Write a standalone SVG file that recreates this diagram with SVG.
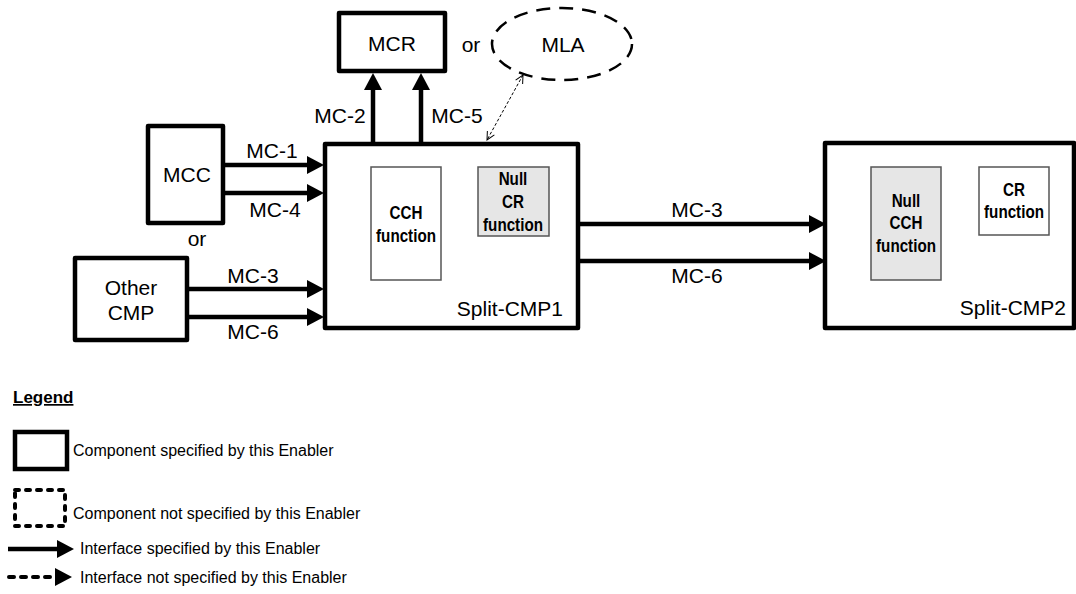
<svg xmlns="http://www.w3.org/2000/svg" width="1076" height="594" viewBox="0 0 1076 594">
<style>
.box{fill:#fff;stroke:#000;stroke-width:4.5;stroke-linejoin:round}
.fn{fill:#fff;stroke:#555;stroke-width:1.5}
.fng{fill:#e6e6e6;stroke:#555;stroke-width:1.5}
.lbl{font-family:"Liberation Sans",Arial,sans-serif;font-size:21px;fill:#000}
.fnt{font-family:"Liberation Sans",Arial,sans-serif;font-size:19px;font-weight:bold;fill:#000;text-anchor:middle}
.leg{font-family:"Liberation Sans",Arial,sans-serif;font-size:16px;fill:#000}
.arr{stroke:#000;stroke-width:4.5;fill:none;marker-end:url(#ah)}
</style>
<defs>
<marker id="ah" viewBox="0 0 17 18" markerWidth="17" markerHeight="18" markerUnits="userSpaceOnUse" refX="1" refY="9" orient="auto">
<path d="M0,0 L17,9 L0,18 z" fill="#000"/>
</marker>
<marker id="oh" viewBox="0 0 10 10" markerWidth="10" markerHeight="10" markerUnits="userSpaceOnUse" refX="9" refY="5" orient="auto-start-reverse">
<path d="M1,1 L9,5 L1,9" fill="none" stroke="#000" stroke-width="1"/>
</marker>
</defs>
<rect width="1076" height="594" fill="#fff"/>

<g id="MCR">
<rect class="box" x="339" y="13" width="106" height="58"/>
<text class="lbl" x="392" y="51" text-anchor="middle">MCR</text>
</g>
<text class="lbl" x="471" y="52" text-anchor="middle">or</text>
<g id="MLA">
<ellipse cx="562" cy="44" rx="70" ry="36" fill="#fff" stroke="#000" stroke-width="2.5" stroke-dasharray="14,9"/>
<text class="lbl" x="563" y="52" text-anchor="middle">MLA</text>
</g>

<g id="MCC">
<rect class="box" x="148" y="126" width="75" height="97"/>
<text class="lbl" x="187" y="182" text-anchor="middle">MCC</text>
</g>
<text class="lbl" x="197" y="246" text-anchor="middle">or</text>
<g id="OtherCMP">
<rect class="box" x="75" y="258" width="112" height="82"/>
<text class="lbl" x="131" y="295" text-anchor="middle">Other</text>
<text class="lbl" x="131" y="320" text-anchor="middle">CMP</text>
</g>

<g id="SplitCMP1">
<rect class="box" x="325" y="144" width="253" height="184"/>
<rect class="fn" x="371" y="167" width="70" height="113"/>
<g transform="translate(406,0) scale(0.8,1)">
<text class="fnt" x="0" y="219">CCH</text>
<text class="fnt" x="0" y="242">function</text>
</g>
<rect class="fng" x="478" y="167" width="71" height="69"/>
<g transform="translate(513,0) scale(0.8,1)">
<text class="fnt" x="0" y="185">Null</text>
<text class="fnt" x="0" y="208">CR</text>
<text class="fnt" x="0" y="231">function</text>
</g>
<text class="lbl" x="563" y="316" text-anchor="end">Split-CMP1</text>
</g>

<g id="SplitCMP2">
<rect class="box" x="825" y="143" width="249" height="185"/>
<rect class="fng" x="871" y="167" width="70" height="113"/>
<g transform="translate(906,0) scale(0.8,1)">
<text class="fnt" x="0" y="207">Null</text>
<text class="fnt" x="0" y="229">CCH</text>
<text class="fnt" x="0" y="252">function</text>
</g>
<rect class="fn" x="979" y="167" width="70" height="68"/>
<g transform="translate(1014,0) scale(0.8,1)">
<text class="fnt" x="0" y="196">CR</text>
<text class="fnt" x="0" y="218">function</text>
</g>
<text class="lbl" x="1066" y="315" text-anchor="end">Split-CMP2</text>
</g>

<g id="connectors">
<line class="arr" x1="373" y1="144" x2="373" y2="89"/>
<line class="arr" x1="421" y1="144" x2="421" y2="89"/>
<line class="arr" x1="223" y1="165" x2="308" y2="165"/>
<line class="arr" x1="223" y1="193" x2="308" y2="193"/>
<line class="arr" x1="187" y1="289" x2="308" y2="289"/>
<line class="arr" x1="187" y1="317" x2="308" y2="317"/>
<line class="arr" x1="578" y1="224" x2="810" y2="224"/>
<line class="arr" x1="578" y1="261" x2="810" y2="261"/>
<line x1="523" y1="75" x2="487" y2="140" stroke="#000" stroke-width="1" stroke-dasharray="3,2" marker-start="url(#oh)" marker-end="url(#oh)"/>
<text class="lbl" x="340" y="123" text-anchor="middle">MC-2</text>
<text class="lbl" x="457" y="123" text-anchor="middle">MC-5</text>
<text class="lbl" x="272" y="158" text-anchor="middle">MC-1</text>
<text class="lbl" x="275" y="217" text-anchor="middle">MC-4</text>
<text class="lbl" x="253" y="283" text-anchor="middle">MC-3</text>
<text class="lbl" x="253" y="339" text-anchor="middle">MC-6</text>
<text class="lbl" x="697" y="217" text-anchor="middle">MC-3</text>
<text class="lbl" x="697" y="283" text-anchor="middle">MC-6</text>
</g>

<g id="legend">
<text x="13" y="403" font-family="Liberation Sans, Arial, sans-serif" font-size="17" font-weight="bold" text-decoration="underline">Legend</text>
<rect x="15" y="432" width="52" height="37" fill="none" stroke="#000" stroke-width="4.5"/>
<text class="leg" x="73" y="456">Component specified by this Enabler</text>
<rect x="15" y="490" width="50" height="36" fill="none" stroke="#000" stroke-width="4" stroke-linecap="round" stroke-dasharray="4,7"/>
<text class="leg" x="73" y="519">Component not specified by this Enabler</text>
<line class="arr" x1="8" y1="549" x2="58" y2="549"/>
<text class="leg" x="80" y="554">Interface specified by this Enabler</text>
<line x1="9" y1="577" x2="56" y2="577" stroke="#000" stroke-width="4" stroke-linecap="round" stroke-dasharray="5,7" marker-end="url(#ah)"/>
<text class="leg" x="80" y="583">Interface not specified by this Enabler</text>
</g>
</svg>
